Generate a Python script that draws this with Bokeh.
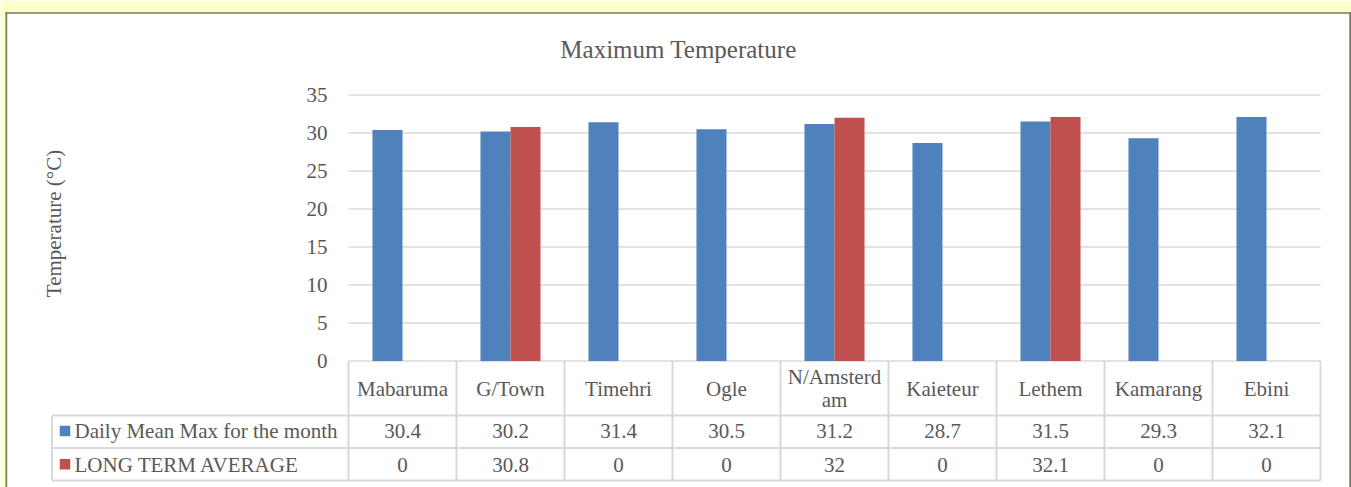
import numpy as np
from bokeh.plotting import figure
from bokeh.models import Range1d, FixedTicker, ColumnDataSource, Label, LinearAxis
from bokeh.transform import dodge
from bokeh.core.properties import value
from bokeh.embed import file_html
from bokeh.resources import INLINE

# ---------------- data ----------------
stations = ["Mabaruma", "G/Town", "Timehri", "Ogle", "N/Amsterdam",
            "Kaieteur", "Lethem", "Kamarang", "Ebini"]
daily_mean_max = [30.4, 30.2, 31.4, 30.5, 31.2, 28.7, 31.5, 29.3, 32.1]
long_term_avg = [0, 30.8, 0, 0, 32, 0, 32.1, 0, 0]
series_names = ["Daily Mean Max for the month", "LONG TERM AVERAGE"]
y_ticks = [0, 5, 10, 15, 20, 25, 30, 35]
title_text = "Maximum Temperature"
y_label = "Temperature (°C)"

# ---------------- style ----------------
BLUE = "#4F81BD"
RED = "#C0504D"
TXT = "#595959"
GRID = "#D9D9D9"
YELLOW = "#FFFFCC"
DARK = "#75755F"
FONT = "Liberation Serif"
W, H = 1351, 487
n = len(stations)
bar_w = 0.278
centers = np.arange(n) + 0.5

# layout geometry (canvas pixels -> data units of the single frame)
ORG_X, PX_PER_CAT = 348.0, 108.0     # canvas x of category 0 edge, px per category
ORG_Y, PX_PER_DEG = 360.5, 7.6       # canvas y of 0 degC, px per degree


def px(cx):
    return (cx - ORG_X) / PX_PER_CAT


def py(cy):
    return (ORG_Y - cy) / PX_PER_DEG


def fmt(v):
    return f"{v:g}"


p = figure(width=W, height=H,
           x_range=Range1d(px(0), px(W)),
           y_range=Range1d(py(H), py(0)),
           toolbar_location=None, output_backend="svg",
           x_axis_type=None, y_axis_type=None,
           min_border_left=0, min_border_right=0,
           min_border_top=0, min_border_bottom=0)
p.grid.visible = False
p.outline_line_color = None
p.background_fill_color = "white"
p.border_fill_color = "white"

# outer decoration: yellow page around the chart box with a dark box border
p.quad(left=[px(0), px(0)], right=[px(W), px(5)],
       bottom=[py(11.7), py(H)], top=[py(0), py(0)],
       fill_color=YELLOW, line_color=None)
p.quad(left=[px(5), px(5), px(1348.8)], right=[px(W), px(6.7), px(W)],
       bottom=[py(13.2), py(H), py(H)], top=[py(11.7), py(11.7), py(11.7)],
       fill_color=DARK, line_color=None)

# y axis at the left edge of the plot area
ax = LinearAxis(fixed_location=0, bounds=(0, 36.2),
                ticker=FixedTicker(ticks=y_ticks))
ax.axis_line_color = None
ax.major_tick_line_color = None
ax.minor_tick_line_color = None
ax.major_label_standoff = 15
ax.major_label_text_font = FONT
ax.major_label_text_font_size = "21px"
ax.major_label_text_color = TXT
ax.axis_label = y_label
ax.axis_label_standoff = 238
ax.axis_label_text_font = FONT
ax.axis_label_text_font_size = "21px"
ax.axis_label_text_font_style = "normal"
ax.axis_label_text_color = TXT
p.add_layout(ax, "left")

# horizontal gridlines of the plot area
p.segment(x0=[0] * len(y_ticks), y0=y_ticks, x1=[n] * len(y_ticks), y1=y_ticks,
          line_color=GRID, line_width=1.3)

# bars
src = ColumnDataSource(dict(x=centers, mean=daily_mean_max, lt=long_term_avg))
p.vbar(x=dodge("x", -bar_w / 2), top="mean", width=bar_w, source=src,
       fill_color=BLUE, line_color=None)
p.vbar(x=dodge("x", bar_w / 2), top="lt", width=bar_w, source=src,
       fill_color=RED, line_color=None)

# title
p.add_layout(Label(x=px(678), y=py(49), text=title_text,
                   text_font=FONT, text_font_size="25px", text_color=TXT,
                   text_align="center", text_baseline="alphabetic"))

# ---------------- data table ----------------
x_left = px(51.5)
y_cat_bottom, y_row1_bottom, y_row2_bottom = py(415), py(447.5), py(480)
vx = list(range(n + 1))
p.segment(x0=vx, y0=[0] * len(vx), x1=vx, y1=[y_row2_bottom] * len(vx),
          line_color=GRID, line_width=2)
p.segment(x0=[x_left], y0=[y_cat_bottom], x1=[x_left], y1=[y_row2_bottom],
          line_color=GRID, line_width=2)
hy = [y_cat_bottom, y_row1_bottom, y_row2_bottom]
p.segment(x0=[x_left] * 3, y0=hy, x1=[n] * 3, y1=hy,
          line_color=GRID, line_width=2)

txt_kw = dict(text_font=value(FONT), text_font_size="21px", text_color=TXT,
              text_baseline="alphabetic")

# category labels (long names wrap like in Excel)
line1, y1s, line2, xs2 = [], [], [], []
for i, s in enumerate(stations):
    if len(s) > 9:
        line1.append(s[:9])
        y1s.append(py(376))
        line2.append(s[9:])
        xs2.append(centers[i])
    else:
        line1.append(s)
        y1s.append(py(388))
p.text(x=centers, y=y1s, text=line1, text_align="center", **txt_kw)
if line2:
    p.text(x=xs2, y=[py(399)] * len(xs2), text=line2, text_align="center", **txt_kw)

# value rows
p.text(x=centers, y=[py(430.5)] * n, text=[fmt(v) for v in daily_mean_max],
       text_align="center", **txt_kw)
p.text(x=centers, y=[py(464)] * n, text=[fmt(v) for v in long_term_avg],
       text_align="center", **txt_kw)

# legend keys + series names
p.scatter(x=[px(64.5), px(64.5)], y=[py(430.5), py(463.7)], marker="square",
          size=10.5, color=[BLUE, RED], line_color=None)
p.text(x=[px(74), px(74)], y=[py(430.5), py(464)], text=series_names,
       text_align="left", **txt_kw)

open("out.html", "w").write(file_html(p, INLINE))
